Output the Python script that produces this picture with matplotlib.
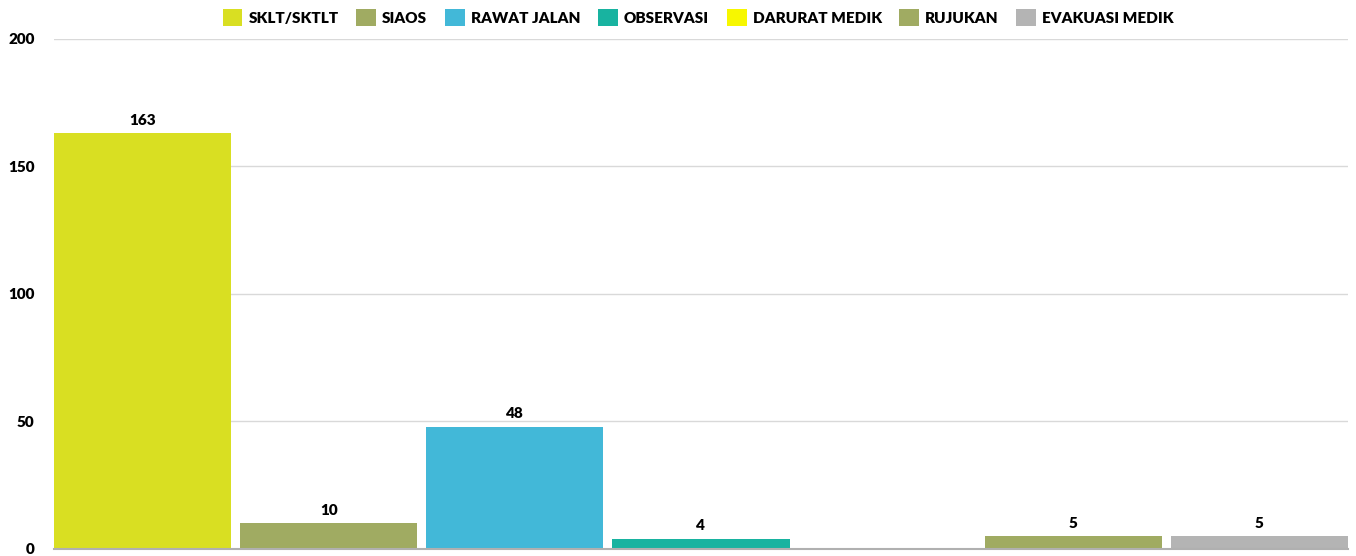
import matplotlib
matplotlib.use("Agg")
import matplotlib.pyplot as plt
from matplotlib.patches import Patch

# data
categories = ["SKLT/SKTLT", "SIAOS", "RAWAT JALAN", "OBSERVASI",
              "DARURAT MEDIK", "RUJUKAN", "EVAKUASI MEDIK"]
values = [163, 10, 48, 4, 0, 5, 5]
colors = ["#d9df22", "#a0ab62", "#42b8d8", "#18b3a0",
          "#f7f700", "#a0ab62", "#b4b4b4"]
yticks = [0, 50, 100, 150, 200]

plt.rcParams['font.family'] = ['Lato', 'DejaVu Sans']

fig = plt.figure(figsize=(13.56, 5.56), dpi=100)
ax = fig.add_axes([0.0398, 0.0126, 0.9542, 0.9175])

bw = 0.952
x = list(range(len(values)))
ax.bar(x, values, width=bw, color=colors, zorder=2)

for xi, v in zip(x, values):
    if v > 0:
        ax.text(xi, v + 2.5, str(v), ha='center', va='bottom',
                fontsize=11, fontweight='heavy', color='black')

ax.set_xlim(-bw / 2, len(values) - 1 + bw / 2)
ax.set_ylim(0, 200)
ax.set_yticks(yticks)
ax.set_yticklabels([str(t) for t in yticks], fontsize=11, fontweight='heavy')
ax.set_xticks([])
ax.tick_params(axis='y', length=0, pad=14)
ax.grid(axis='y', color='#d9d9d9', linewidth=1, zorder=0)
for s in ['top', 'right', 'left']:
    ax.spines[s].set_visible(False)
ax.spines['bottom'].set_color('#b0b0b0')
ax.spines['bottom'].set_linewidth(1.5)
ax.spines['bottom'].set_zorder(3)

handles = [Patch(facecolor=c, label=l) for c, l in zip(colors, categories)]
fig.legend(handles=handles, loc='center', bbox_to_anchor=(0.515, 0.968),
           ncol=7, frameon=False, handlelength=1.3, handleheight=1.3,
           handletextpad=0.4, columnspacing=1.15,
           prop={'size': 11, 'weight': 'heavy'})

fig.savefig("out.png", dpi=100)
